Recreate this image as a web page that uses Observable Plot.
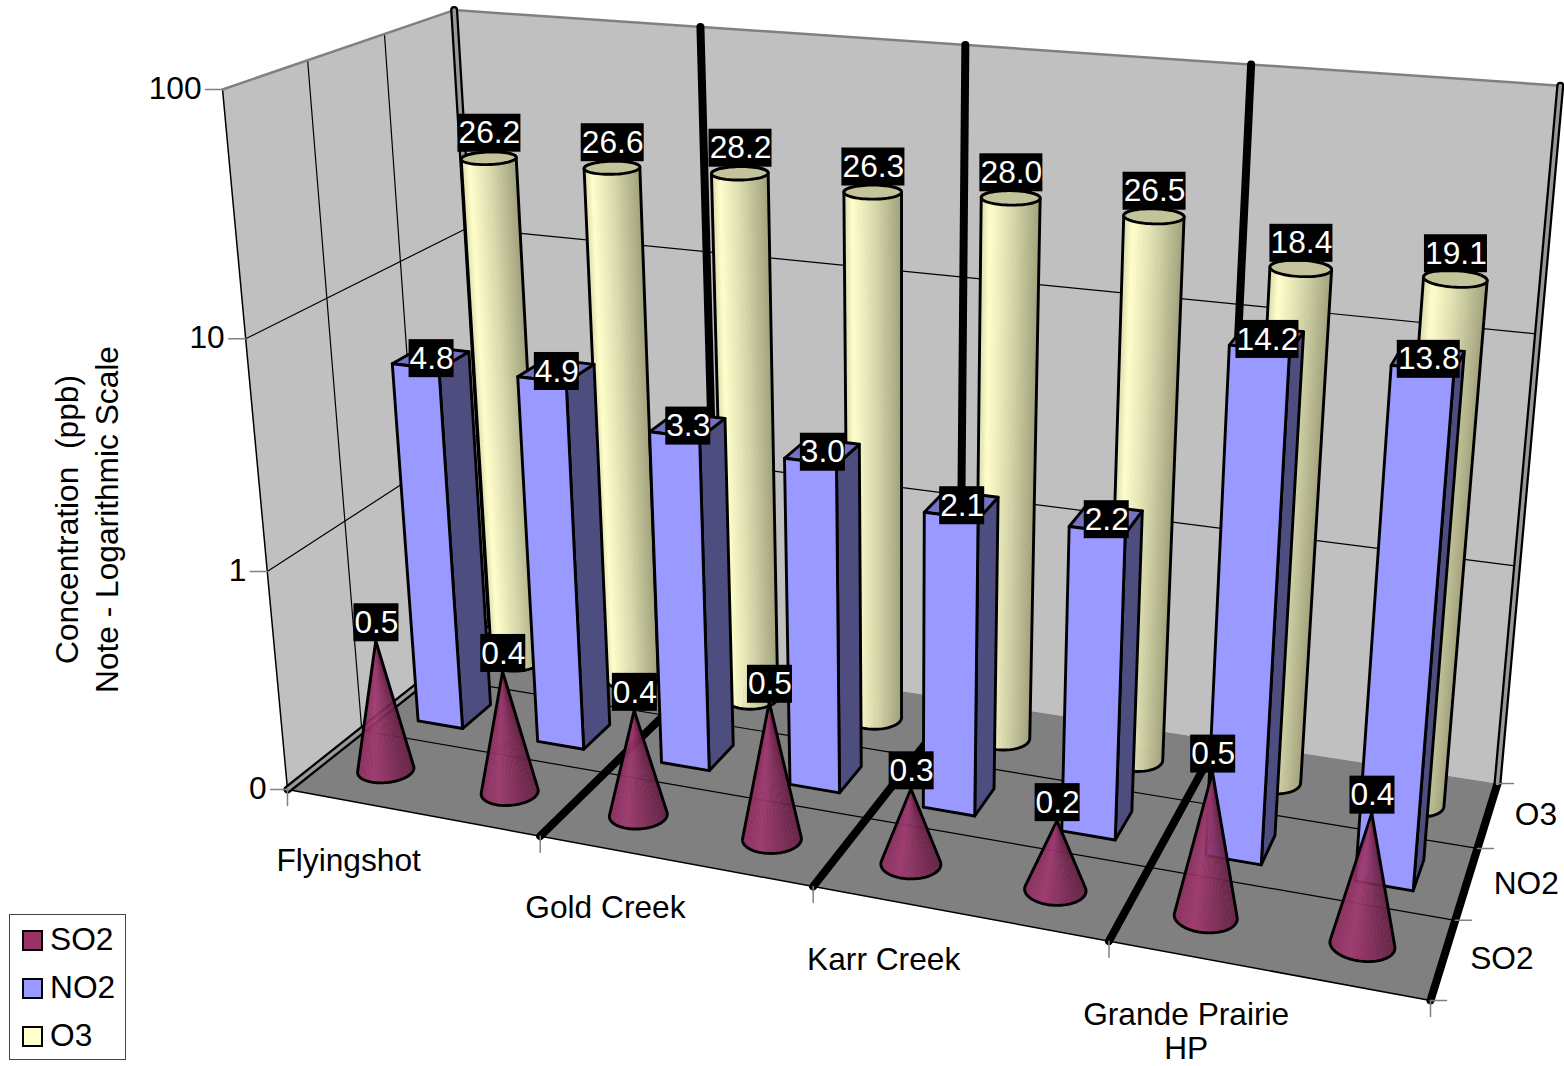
<!DOCTYPE html>
<html><head><meta charset="utf-8">
<script src="https://cdn.jsdelivr.net/npm/d3@7"></script>
<script src="https://cdn.jsdelivr.net/npm/@observablehq/plot@0.6"></script>
<style>
html,body{margin:0;padding:0;background:#fff}
#wrap{position:relative;width:1564px;height:1066px;font-family:"Liberation Sans",Arial,sans-serif}
#legend{position:absolute;left:9px;top:914px;width:115px;height:144px;border:1px solid #444;background:#fff;font-size:31.7px;color:#000}
#legend div{position:absolute;left:12px;height:36px;line-height:36px;white-space:nowrap}
#legend i{display:inline-block;width:17px;height:17px;border:2px solid #000;margin-right:7px;vertical-align:-1px}
</style></head><body><div id="wrap"></div>
<script>
const sites = ["Flyingshot", "Gold Creek", "Karr Creek", "Grande Prairie\nHP"];
const seriesNames = ["SO2", "NO2", "O3"];
const seriesColors = ["#993366", "#9999FF", "#FFFFCC"];
// printed labels of the cones, and the cone heights
const so2 = [0.5, 0.4, 0.4, 0.5, 0.3, 0.2, 0.5, 0.4];
const so2Drawn = [0.406, 0.364, 0.303, 0.413, 0.217, 0.202, 0.418, 0.361];
const no2 = [4.8, 4.9, 3.3, 3.0, 2.1, 2.2, 14.2, 13.8];
const o3 = [26.2, 26.6, 28.2, 26.3, 28.0, 26.5, 18.4, 19.1];
const valueTicks = [0.1, 1, 10, 100];
const valueTickLabels = ["0", "1", "10", "100"];

const W = 1564, H = 1066, FONT = "Liberation Sans", FS = 31.7, LW = 2.9;
const logW = Plot.scale({y: {type: "log", domain: [0.1, 100], range: [0, 1]}});
const slots = so2.length;

// camera: floor corners and vertical vanishing point
const floorC = [[287, 789], [1430, 1000], [1497, 783], [491, 627]];
const vanish = [901, 7406], vk = -0.09567;
const Hm = (() => {
  const [[x0,y0],[x1,y1],[x2,y2],[x3,y3]] = floorC;
  const dx1=x1-x2, dx2=x3-x2, sx=x0-x1+x2-x3, dy1=y1-y2, dy2=y3-y2, sy=y0-y1+y2-y3;
  const det=dx1*dy2-dx2*dy1;
  const g=(sx*dy2-dx2*sy)/det, h=(dx1*sy-sx*dy1)/det;
  return {a:x1-x0+g*x1,b:x3-x0+h*x3,c:x0,d:y1-y0+g*y1,e:y3-y0+h*y3,f:y0,g,h};
})();
function P(u, v, w0 = 0) {
  const m = Hm, w = w0*(1-0.006*u);
  const X = m.a*u+m.b*v+m.c + w*vk*vanish[0];
  const Y = m.d*u+m.e*v+m.f + w*vk*vanish[1];
  const Z = m.g*u+m.h*v+1 + w*vk;
  return [X/Z, Y/Z];
}

const polys = [];
let pid = 0;
function poly(pts, f, s = "none", sw = 0, close = true, o = 1) {
  const id = pid++;
  const q = close ? [...pts, pts[0]] : pts;
  for (const p of q) polys.push({id, x: p[0], y: p[1], f, s, sw, o});
}
const seg = (a, b, s, sw) => poly([a, b], "none", s, sw, false);

// walls and floor
poly([P(0,0,0),P(0,1,0),P(0,1,1),P(0,0,1)], "#C0C0C0");
poly([P(0,1,0),P(1,1,0),P(1,1,1),P(0,1,1)], "#C0C0C0");
poly([P(0,0,0),P(1,0,0),P(1,1,0),P(0,1,0)], "#808080");
// thin grid
for (const t of [1,2].map(d => logW.apply(valueTicks[d]))) {
  seg(P(0,0,t), P(0,1,t), "#000", 1.2);
  seg(P(0,1,t), P(1,1,t), "#000", 1.2);
}
for (const v of [1/3, 2/3]) {
  seg(P(0,v,0), P(0,v,1), "#000", 1.2);
  seg(P(0,v,0), P(1,v,0), "#000", 1.2);
}
seg(P(0,0,0), P(0,0,1), "#000", 1.5);
seg(P(0,0,0), P(1,0,0), "#000", 1.5);
seg(P(0,0,1), P(0,1,1), "#808080", 2.5);
seg(P(0,1,1), P(1,1,1), "#808080", 2.5);
// thick category lines
for (const u of [0, .25, .5, .75, 1]) {
  seg(P(u,0,0), P(u,1,0), "#000", 8);
  seg(P(u,1,0), P(u,1,1), "#000", 8);
}
for (const [a,b] of [[P(0,0,0),P(0,1,0)],[P(0,1,0),P(0,1,1)],[P(1,1,0),P(1,1,1)]]) seg(a,b,"#999",3.5);
// ticks
for (const u of [0,.25,.5,.75,1]) { const p=P(u,0,0); seg(p,[p[0],p[1]+16],"#808080",1.5); }
for (const v of [0,1/3,2/3,1]) { const p=P(1,v,0); seg(p,[p[0]+16,p[1]],"#808080",1.5); }
for (const t of valueTicks) { const p=P(0,0,logW.apply(t)); seg(p,[p[0]-17,p[1]],"#808080",1.5); }

const ring = (uc,vc,ru,rv,w,n) => d3.range(n).map(i => {
  const a = 2*Math.PI*i/n; return P(uc+ru*Math.cos(a), vc+rv*Math.sin(a), w);
});
const cylRamp = d3.scaleLinear().domain([0,.15,.5,1]).range(["#d8d8ac","#FFFFCC","#dcdcb0","#a0a07c"]);
const coneRamp = d3.scaleLinear().domain([0,.3,1]).range(["#8e2f60","#a03a70","#662245"]);
const RU = 0.025, RV = 0.066, BU = 0.0235, BV = 0.072;

function cylinder(i, val) {
  const uc=(i+.5)/slots, vc=5/6, t=logW.apply(val), n=64;
  const a=ring(uc,vc,RU,RV,0,n), b=ring(uc,vc,RU,RV,t,n);
  const x0=d3.min(a,d=>d[0]), x1=d3.max(a,d=>d[0]);
  d3.range(n).map(k=>({k,y:a[k][1]})).sort((p,q)=>p.y-q.y).forEach(({k})=>{
    const j=(k+1)%n, c=cylRamp(((a[k][0]+a[j][0])/2-x0)/(x1-x0));
    poly([a[k],a[j],b[j],b[k]],c,c,.6);
  });
  poly(d3.polygonHull([...a,...b]),"none","#000",LW);
  poly(b,"#C4C49A","#000",LW);
}
function box(i, val) {
  const uc=(i+.5)/slots, vc=.5, t=logW.apply(val);
  const u0=uc-BU,u1=uc+BU,v0=vc-BV,v1=vc+BV;
  poly([P(u1,v0,0),P(u1,v1,0),P(u1,v1,t),P(u1,v0,t)],"#4D4D80","#000",LW);
  poly([P(u0,v0,t),P(u1,v0,t),P(u1,v1,t),P(u0,v1,t)],"#7373BF","#000",LW);
  poly([P(u0,v0,0),P(u1,v0,0),P(u1,v0,t),P(u0,v0,t)],"#9999FF","#000",LW);
}
function cone(i, val) {
  const uc=(i+.5)/slots, vc=1/6, t=logW.apply(val), n=96;
  const a=ring(uc,vc,RU,RV,0,n), top=P(uc,vc,t);
  const x0=d3.min(a,d=>d[0]), x1=d3.max(a,d=>d[0]);
  const kL=d3.minIndex(a,d=>d[0]), kR=d3.maxIndex(a,d=>d[0]);
  for (let k=kL; k!==kR; k=(k+1)%n) {
    const j=(k+1)%n, c=coneRamp(((a[k][0]+a[j][0])/2-x0)/(x1-x0));
    poly([a[k],a[j],top],c,c,.35,true,.96);
  }
  poly(d3.polygonHull([...a,top]),"none","#000",LW);
}
o3.forEach((d,i)=>cylinder(i,d));
no2.forEach((d,i)=>box(i,d));
so2Drawn.forEach((d,i)=>cone(i,d));

// data labels
const labels = [];
const addLabels = (arr, shown, v, dy) => arr.forEach((d,i)=>{
  const p=P((i+.5)/slots, v, logW.apply(d)), s=shown[i].toFixed(1), hw=s.length>3?31.5:22.5;
  labels.push({x:p[0]+.7, y:p[1]+dy, s, x1:p[0]+.7-hw, x2:p[0]+.7+hw, y1:p[1]+dy-19, y2:p[1]+dy+19});
});
addLabels(o3, o3, 5/6, -25);
addLabels(no2, no2, .5, 1);
addLabels(so2Drawn, so2, 1/6, -18);

const axisTexts = valueTicks.map((t,i)=>{
  const p=P(0,0,logW.apply(t)); return {x:p[0]-21,y:p[1]-1,s:valueTickLabels[i]};
});
const catTexts = sites.map((s,i)=>{
  const u=(i+.5)/sites.length, p=P(u,0,0);
  return {x:p[0]-60-u*23,y:p[1]+48-4*u+(s.includes("\n")?16.5:0),s};
});
const serTexts = seriesNames.map((s,i)=>{
  const p=P(1,(i+.5)/3,0); return {x:p[0]+27,y:p[1],s};
});

const chart = Plot.plot({
  width: W, height: H, margin: 0,
  x: {domain: [0, W], range: [0, W], axis: null},
  y: {domain: [0, H], range: [0, H], axis: null},
  color: {type: "identity"},
  style: {fontFamily: FONT, background: "transparent"},
  marks: [
    Plot.line(polys, {x:"x", y:"y", z:"id", fill:"f", fillOpacity:"o", stroke:"s", strokeWidth:"sw", strokeLinejoin:"round", strokeLinecap:"round", curve:"linear"}),
    Plot.rect(labels, {x1:"x1", x2:"x2", y1:"y1", y2:"y2", fill:"#000"}),
    Plot.text(labels, {x:"x", y:"y", text:"s", fill:"#fff", fontSize:FS, fontFamily:FONT}),
    Plot.text(axisTexts, {x:"x", y:"y", text:"s", textAnchor:"end", fontSize:FS, fill:"#000", fontFamily:FONT}),
    Plot.text(catTexts, {x:"x", y:"y", text:"s", fontSize:FS, fill:"#000", fontFamily:FONT, lineHeight:1.07}),
    Plot.text(serTexts, {x:"x", y:"y", text:"s", textAnchor:"start", fontSize:FS, fill:"#000", fontFamily:FONT}),
    Plot.text(["Concentration  (ppb)\nNote - Logarithmic Scale"], {x:()=>85, y:()=>519, text:d=>d, rotate:-90, fontSize:FS, fill:"#000", fontFamily:FONT, lineHeight:1.26})
  ]
});
const wrap = document.getElementById("wrap");
wrap.appendChild(chart);
const lg = document.createElement("div"); lg.id="legend";
seriesNames.forEach((n,i)=>{
  const r=document.createElement("div"); r.style.top=(6+i*48)+"px";
  const sw=document.createElement("i"); sw.style.background=seriesColors[i];
  r.appendChild(sw); r.appendChild(document.createTextNode(n)); lg.appendChild(r);
});
wrap.appendChild(lg);
</script></body></html>
